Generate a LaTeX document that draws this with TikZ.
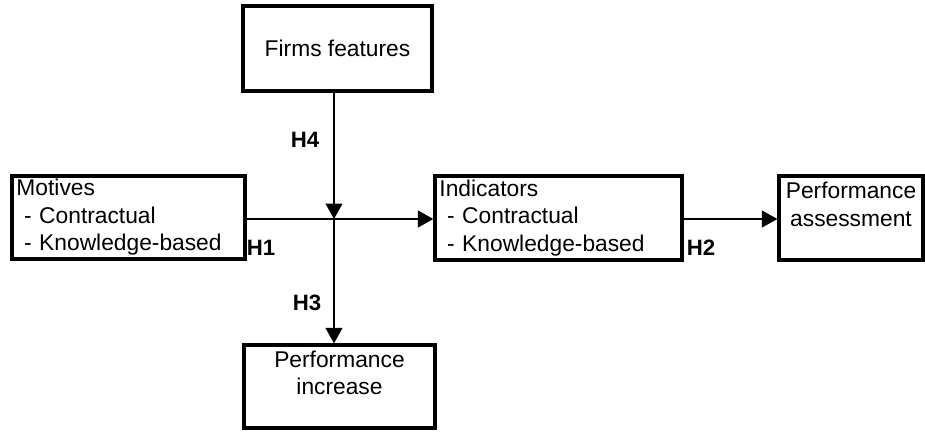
\documentclass[tikz,border=0pt]{standalone}
\usepackage{fontspec}
\setmainfont{Liberation Sans}
\usetikzlibrary{arrows.meta,positioning}
\tikzset{box node/.style={rectangle, draw, line width=2.3pt, inner xsep=3pt, inner ysep=0pt,
    font=\fontsize{16.2}{19.5}\selectfont}}
\tikzset{list node/.style={box node, align=left}}
\tikzset{item node/.style={box node, align=center}}
\tikzset{link edge/.style={draw, line width=0.9pt, -{Triangle[length=11pt,width=12pt]}}}
\tikzset{hyp label/.style={inner sep=0pt, font=\fontsize{15.8}{19}\selectfont\bfseries}}

\begin{document}
\begin{tikzpicture}[x=0.025cm, y=-0.025cm]
  \useasboundingbox (0,0) rectangle (925,432);

  \node [item node, minimum width=4.725cm, minimum height=2.125cm] (firms)    at (337.5, 48.5) {Firms features};
  \node [list node, minimum width=5.825cm, minimum height=2.075cm, text width=5.6cm] (motives) at (128.5,217.5)
        {Motives\\\ - Contractual\\\ - Knowledge-based};
  \node [list node, minimum width=6.175cm, minimum height=2.1cm, text width=5.95cm] (indic) at (558.5,218)
        {Indicators\\\ - Contractual\\\ - Knowledge-based};
  \node [item node, minimum width=3.6cm,   minimum height=2.1cm]   (assess)   at (851,  218)   {Performance\\assessment\\~};
  \node [item node, minimum width=4.775cm, minimum height=2.075cm] (increase) at (339.5,386.5) {Performance\\increase\\~};

  \coordinate (cross) at (334,219);

  \draw [link edge] (firms.south -| cross)   -- (cross);
  \draw [link edge] (cross)                  -- (increase.north -| cross);
  \draw [link edge] (motives.east |- cross)  -- (indic.west |- cross);
  \draw [link edge] (indic.east |- cross)    -- (assess.west |- cross);

  \node [hyp label] (h4) at (305,140) {H4};
  \node [hyp label] (h1) at (261,248) {H1};
  \node [hyp label] (h2) at (701,248) {H2};
  \node [hyp label] (h3) at (307,303) {H3};
\end{tikzpicture}
\end{document}
